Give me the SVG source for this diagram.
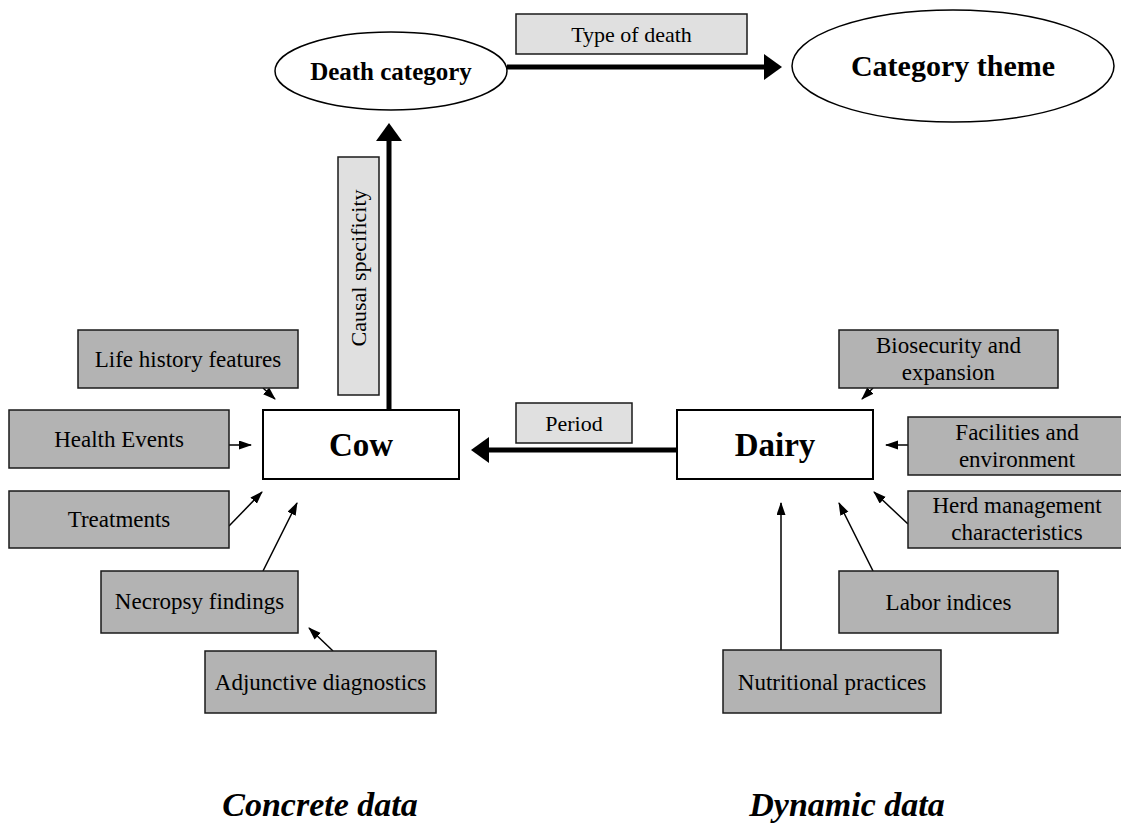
<svg xmlns="http://www.w3.org/2000/svg" width="1121" height="829" viewBox="0 0 1121 829">
<defs>
<style>
text{font-family:"Liberation Serif","Times New Roman",serif;fill:#000}
.g{fill:#b3b3b3;stroke:#1a1a1a;stroke-width:1.5}
.lab{fill:#e0e0e0;stroke:#1a1a1a;stroke-width:1.5}
.main{fill:#fff;stroke:#000;stroke-width:2}
.ell{fill:#fff;stroke:#000;stroke-width:1.5}
.t{font-size:23px;text-anchor:middle}
.tl{font-size:22px;text-anchor:middle}
.big{font-size:33px;font-weight:bold;text-anchor:middle}
.thick{stroke:#000;stroke-width:5;fill:none;marker-end:url(#bigHead)}
.thin{stroke:#000;stroke-width:1.5;fill:none;marker-end:url(#smallHead)}
.foot{font-size:34px;font-weight:bold;font-style:italic;text-anchor:middle}
</style>
<marker id="bigHead" markerUnits="userSpaceOnUse" markerWidth="18" markerHeight="26" refX="8" refY="13" orient="auto">
<path d="M0,0 L18,13 L0,26 z" fill="#000"/>
</marker>
<marker id="smallHead" markerUnits="userSpaceOnUse" markerWidth="13" markerHeight="10" refX="12" refY="4.5" orient="auto">
<path d="M0,0 L13,4.5 L0,9 z" fill="#000"/>
</marker>
</defs>
<rect width="1121" height="829" fill="#fff"/>

<g id="connectors">
<line class="thick" x1="507" y1="67" x2="772" y2="67"/>
<line class="thick" x1="389" y1="410" x2="389" y2="133"/>
<line class="thick" x1="677" y1="450" x2="481" y2="450"/>
<line class="thin" x1="263" y1="388" x2="275" y2="399"/>
<line class="thin" x1="229" y1="445" x2="251" y2="445"/>
<line class="thin" x1="229" y1="526" x2="262" y2="492"/>
<line class="thin" x1="263" y1="571" x2="297" y2="503"/>
<line class="thin" x1="333" y1="651" x2="309" y2="628"/>
<line class="thin" x1="873" y1="388" x2="862" y2="399"/>
<line class="thin" x1="908" y1="445" x2="886" y2="445"/>
<line class="thin" x1="908" y1="524" x2="874" y2="492"/>
<line class="thin" x1="873" y1="571" x2="839" y2="503"/>
<line class="thin" x1="781" y1="650" x2="781" y2="503"/>
</g>

<g id="label-type-of-death">
<rect class="lab" x="516" y="14" width="231" height="40"/>
<text class="tl" x="631.5" y="42">Type of death</text>
</g>
<g id="label-causal-specificity">
<rect class="lab" x="338" y="157" width="41" height="238"/>
<text class="tl" transform="translate(366,268) rotate(-90)">Causal specificity</text>
</g>
<g id="label-period">
<rect class="lab" x="516" y="403" width="116" height="40"/>
<text class="tl" x="574" y="431">Period</text>
</g>

<g id="death-category">
<ellipse class="ell" cx="391" cy="71" rx="116" ry="39"/>
<text x="391" y="80" font-size="25" font-weight="bold" text-anchor="middle">Death category</text>
</g>
<g id="category-theme">
<ellipse class="ell" cx="953" cy="66" rx="161" ry="56"/>
<text x="953" y="76" font-size="30" font-weight="bold" text-anchor="middle">Category theme</text>
</g>

<g id="cow">
<rect class="main" x="263" y="410" width="196" height="69"/>
<text class="big" x="361" y="456">Cow</text>
</g>
<g id="dairy">
<rect class="main" x="677" y="410" width="196" height="69"/>
<text class="big" x="775" y="456">Dairy</text>
</g>

<g id="life-history">
<rect class="g" x="78" y="330" width="220" height="58"/>
<text class="t" x="188" y="367">Life history features</text>
</g>
<g id="health-events">
<rect class="g" x="9" y="410" width="220" height="58"/>
<text class="t" x="119" y="447">Health Events</text>
</g>
<g id="treatments">
<rect class="g" x="9" y="491" width="220" height="57"/>
<text class="t" x="119" y="527">Treatments</text>
</g>
<g id="necropsy">
<rect class="g" x="101" y="571" width="197" height="62"/>
<text class="t" x="199.5" y="609">Necropsy findings</text>
</g>
<g id="adjunctive">
<rect class="g" x="205" y="651" width="231" height="62"/>
<text class="t" x="320.5" y="690">Adjunctive diagnostics</text>
</g>

<g id="biosecurity">
<rect class="g" x="839" y="330" width="219" height="58"/>
<text class="t" x="948.5" y="353">Biosecurity and</text>
<text class="t" x="948.5" y="380">expansion</text>
</g>
<g id="facilities">
<rect class="g" x="908" y="417" width="216" height="58"/>
<text class="t" x="1017" y="440">Facilities and</text>
<text class="t" x="1017" y="467">environment</text>
</g>
<g id="herd-management">
<rect class="g" x="908" y="491" width="216" height="57"/>
<text class="t" x="1017" y="513">Herd management</text>
<text class="t" x="1017" y="540">characteristics</text>
</g>
<g id="labor">
<rect class="g" x="839" y="571" width="219" height="62"/>
<text class="t" x="948.5" y="610">Labor indices</text>
</g>
<g id="nutritional">
<rect class="g" x="723" y="650" width="218" height="63"/>
<text class="t" x="832" y="690">Nutritional practices</text>
</g>

<g id="captions">
<text class="foot" x="320" y="816">Concrete data</text>
<text class="foot" x="847" y="816">Dynamic data</text>
</g>
</svg>
